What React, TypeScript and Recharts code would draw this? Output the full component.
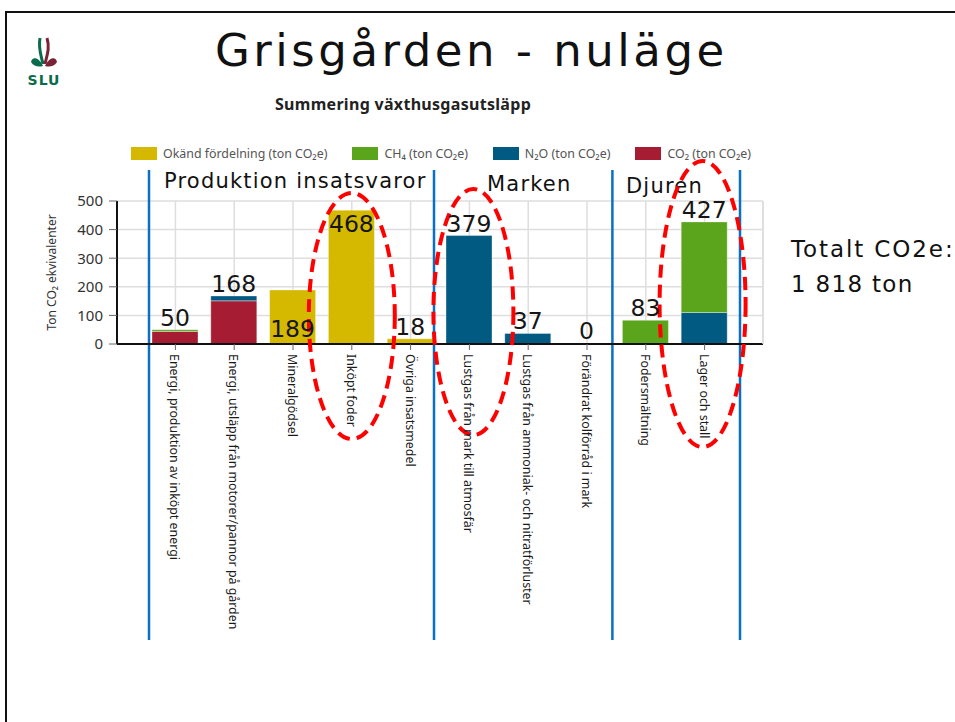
import {
	Bar,
	BarChart,
	CartesianGrid,
	LabelList,
	ReferenceDot,
	ReferenceLine,
	XAxis,
	YAxis,
} from "recharts";

const CATEGORIES = [
	"Energi, produktion av inköpt energi",
	"Energi, utsläpp från motorer/pannor på gården",
	"Mineralgödsel",
	"Inköpt foder",
	"Övriga insatsmedel",
	"Lustgas från mark till atmosfär",
	"Lustgas från ammoniak- och nitratförluster",
	"Förändrat kolförråd i mark",
	"Fodersmältning",
	"Lager och stall",
];

// ton CO2e per source
const CO2 = [44, 151, 0, 0, 0, 0, 0, 0, 0, 0];
const N2O = [0, 17, 0, 0, 0, 379, 37, 0, 0, 110];
const CH4 = [6, 0, 0, 0, 0, 0, 0, 0, 83, 317];
const OKAND = [0, 0, 189, 468, 18, 0, 0, 0, 0, 0];

const Y_TICKS = [0, 100, 200, 300, 400, 500];

// stack order, bottom first
const SERIES = [
	{ key: "co2", name: "CO₂ (ton CO₂e)", color: "#a61c33" },
	{ key: "n2o", name: "N₂O (ton CO₂e)", color: "#005a82" },
	{ key: "ch4", name: "CH₄ (ton CO₂e)", color: "#5aa51c" },
	{ key: "okand", name: "Okänd fördelning (ton CO₂e)", color: "#d4b900" },
];

const rows = CATEGORIES.map((name, i) => ({
	name,
	co2: CO2[i],
	n2o: N2O[i],
	ch4: CH4[i],
	okand: OKAND[i],
	total: CO2[i] + N2O[i] + CH4[i] + OKAND[i],
}));

// slide annotations
const DIVIDERS = [
	{ at: CATEGORIES[0], position: "start", nudge: 3 },
	{ at: CATEGORIES[5], position: "start", nudge: -6 },
	{ at: CATEGORIES[8], position: "start", nudge: -4 },
	{ at: CATEGORIES[9], position: "end", nudge: 6 },
];

const HIGHLIGHTS = [
	{ at: "Inköpt foder", dx: 0, dy: -28, rx: 43, ry: 123 },
	{ at: "Lustgas från mark till atmosfär", dx: 4, dy: -32, rx: 40, ry: 123 },
	{ at: "Lager och stall", dx: -2, dy: -40, rx: 43, ry: 143 },
];

// where the big number sits for a bar (default: just above it)
const LABEL_PLACEMENT: Record<string, string> = {
	Mineralgödsel: "base",
	"Inköpt foder": "inside",
};

const BIG_FONT = "'DejaVu Sans', Verdana, sans-serif";
const SMALL_FONT = "'Noto Sans', 'Open Sans', sans-serif";

function CategoryTick(props: any) {
	const { x, y, payload } = props;
	return (
		<g transform={`translate(${x},${y})`}>
			<text
				transform="rotate(90)"
				x={0}
				y={0}
				dy="0.4em"
				textAnchor="start"
				fontSize={12.4}
				fontFamily={SMALL_FONT}
				fill="#1a1a1a"
			>
				{payload.value}
			</text>
		</g>
	);
}

function ValueLabel(props: any) {
	const { x, y, width, height, value } = props;
	let idx = props.index;
	const byValue = rows.findIndex((r) => r.total === value);
	if (byValue >= 0) idx = byValue;
	const placement = LABEL_PLACEMENT[CATEGORIES[idx]] ?? "top";
	const top = y;
	const base = y + height;
	let baseline = top - 4;
	if (placement === "base") baseline = base - 7;
	if (placement === "inside") baseline = top + 22;
	return (
		<text
			x={x + width / 2}
			y={baseline}
			textAnchor="middle"
			fontSize={23.5}
			fontFamily={BIG_FONT}
			fill="#151515"
		>
			{value}
		</text>
	);
}

function dividerShape(nudge: number) {
	return (p: any) => {
		const lx = p.x1 + nudge;
		const top = Math.min(p.y1, p.y2) - 31;
		const bottom = Math.max(p.y1, p.y2) + 296;
		return <line x1={lx} x2={lx} y1={top} y2={bottom} stroke="#0a70c4" strokeWidth={2.5} />;
	};
}

function ellipseShape(h: { dx: number; dy: number; rx: number; ry: number }) {
	return (p: any) => (
		<ellipse
			cx={p.cx + h.dx}
			cy={p.cy + h.dy}
			rx={h.rx}
			ry={h.ry}
			fill="none"
			stroke="#ff0000"
			strokeWidth={4}
			strokeDasharray="13 7"
		/>
	);
}

function Logo() {
	return (
		<g>
			<path d="M43,64 C41,55 38,48 40,38" stroke="#0b6b4d" strokeWidth={3} fill="none" />
			<path d="M45,64 C47,55 50,48 47,38" stroke="#7a2336" strokeWidth={3} fill="none" />
			<path d="M43,66 C39,57 32,56 31,62 C34,67 39,67 43,66 Z" fill="#0b6b4d" />
			<path d="M45,66 C49,57 56,56 57,62 C54,67 49,67 45,66 Z" fill="#7a2336" />
			<text
				x={44}
				y={85}
				textAnchor="middle"
				fontSize={14}
				fontWeight="bold"
				letterSpacing={1}
				fontFamily={BIG_FONT}
				fill="#0b6b4d"
			>
				SLU
			</text>
		</g>
	);
}

function Legend() {
	return (
		<div
			style={{
				position: "absolute",
				left: 131,
				top: 145,
				display: "flex",
				alignItems: "center",
				fontFamily: SMALL_FONT,
				fontSize: 12.4,
				color: "#555",
				whiteSpace: "nowrap",
			}}
		>
			{[...SERIES].reverse().map((s) => (
				<div key={s.key} style={{ display: "flex", alignItems: "center", marginRight: 25 }}>
					<span style={{ width: 26, height: 13, background: s.color, marginRight: 6, display: "inline-block" }} />
					<span>{s.name}</span>
				</div>
			))}
		</div>
	);
}

export default function App() {
	return (
		<div
			style={{
				position: "absolute",
				left: 0,
				top: 0,
				width: 955,
				height: 722,
				background: "#fff",
				overflow: "hidden",
			}}
		>
			{/* slide frame */}
			<div
				style={{
					position: "absolute",
					left: 5,
					top: 11,
					width: 960,
					height: 720,
					borderTop: "2px solid #111",
					borderLeft: "2px solid #111",
				}}
			/>
			<svg width={955} height={722} style={{ position: "absolute", left: 0, top: 0 }}>
				<Logo />
				<text x={215} y={66} fontSize={45} letterSpacing={3.5} fontFamily={BIG_FONT} fill="#111">
					Grisgården - nuläge
				</text>
				<text
					x={403}
					y={110}
					textAnchor="middle"
					fontSize={16}
					fontWeight="bold"
					letterSpacing={0.3}
					fontFamily={SMALL_FONT}
					fill="#222"
				>
					Summering växthusgasutsläpp
				</text>
				<g fontFamily={BIG_FONT} fontSize={21} letterSpacing={1.2} fill="#111">
					<text x={164} y={188}>Produktion insatsvaror</text>
					<text x={487} y={191}>Marken</text>
					<text x={626} y={193}>Djuren</text>
				</g>
				<g fontFamily={BIG_FONT} fontSize={23} fill="#111">
					<text x={791} y={257} letterSpacing={1.9}>Totalt CO2e:</text>
					<text x={791} y={292} letterSpacing={1.3}>1 818 ton</text>
				</g>
			</svg>
			<Legend />
			<div style={{ position: "absolute", left: 0, top: 0 }}>
				<BarChart
					width={800}
					height={660}
					data={rows}
					margin={{ top: 201, right: 36, bottom: 0, left: 57 }}
					barSize={46}
				>
					<CartesianGrid stroke="#dedede" strokeWidth={1.5} />
					<XAxis
						dataKey="name"
						interval={0}
						height={316}
						padding={{ left: 29, right: 29 }}
						tick={<CategoryTick />}
						tickSize={6}
						tickMargin={4}
						tickLine={{ stroke: "#666" }}
						axisLine={{ stroke: "#111", strokeWidth: 2 }}
					/>
					{/* hidden twin axis that carries the invisible "total" bars for the big numbers */}
					<XAxis xAxisId="totals" dataKey="name" hide padding={{ left: 29, right: 29 }} />
					<YAxis
						domain={[0, 500]}
						ticks={Y_TICKS}
						width={60}
						tickSize={8}
						tickMargin={6}
						tickLine={{ stroke: "#666" }}
						axisLine={{ stroke: "#111", strokeWidth: 2 }}
						tick={{ fontSize: 15, fill: "#333", fontFamily: SMALL_FONT }}
						label={{
							content: (p: any) => {
								const vb = p.viewBox;
								const cx = vb.x - 1;
								const cy = vb.y + vb.height / 2;
								return (
									<text
										x={cx}
										y={cy}
										transform={`rotate(-90, ${cx}, ${cy})`}
										textAnchor="middle"
										fontSize={12}
										fontFamily={SMALL_FONT}
										fill="#333"
									>
										Ton CO₂ ekvivalenter
									</text>
								);
							},
						}}
					/>
					<YAxis
						yAxisId="frame"
						orientation="right"
						width={1}
						domain={[0, 500]}
						tick={false}
						tickLine={false}
						axisLine={{ stroke: "#dcdcdc", strokeWidth: 1.5 }}
					/>
					{SERIES.map((s) => (
						<Bar
							key={s.key}
							dataKey={s.key}
							name={s.name}
							stackId="total"
							fill={s.color}
							stroke="#ffffff"
							strokeOpacity={0.35}
							isAnimationActive={false}
						/>
					))}
					<Bar
						xAxisId="totals"
						dataKey="total"
						fill="transparent"
						minPointSize={1}
						isAnimationActive={false}
						legendType="none"
					>
						<LabelList dataKey="total" content={<ValueLabel />} />
					</Bar>
					{DIVIDERS.map((d) => (
						<ReferenceLine
							key={d.at + d.position}
							x={d.at}
							position={d.position as any}
							ifOverflow="visible"
							shape={dividerShape(d.nudge)}
						/>
					))}
					{HIGHLIGHTS.map((h) => (
						<ReferenceDot key={h.at} x={h.at} y={0} ifOverflow="visible" shape={ellipseShape(h)} />
					))}
				</BarChart>
			</div>
		</div>
	);
}
